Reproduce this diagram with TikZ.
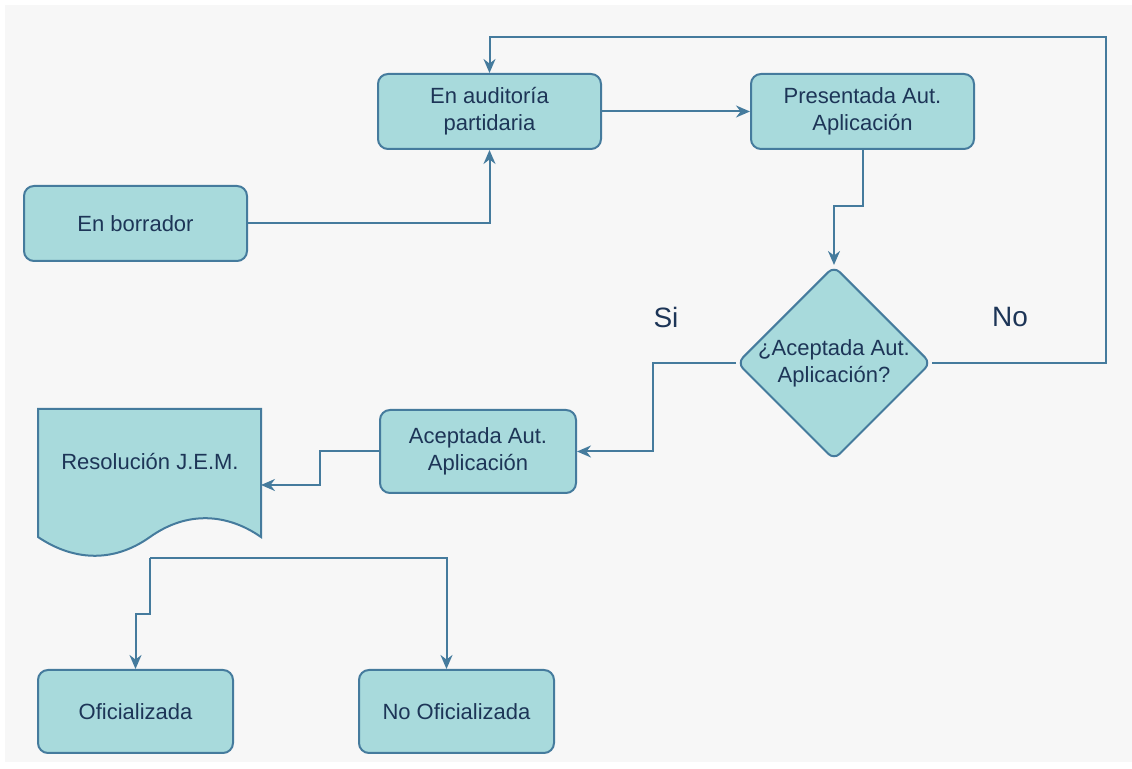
\documentclass[tikz,border=0pt]{standalone}
\usepackage{fontspec}
\setmainfont{Liberation Sans}
\usetikzlibrary{shapes.geometric,arrows.meta}
\definecolor{boxfill}{HTML}{A8DADC}
\definecolor{boxline}{HTML}{457B9D}
\definecolor{txtcol}{HTML}{1D3557}
\definecolor{bgcol}{HTML}{F7F7F7}

\begin{document}
\begin{tikzpicture}[x=0.5pt,y=-0.5pt,line width=1pt,->,>={Stealth[length=7pt,width=6pt]},
  box/.style={draw=boxline, fill=boxfill, rounded corners=5pt, text=txtcol, align=center,
    font=\fontsize{11}{13.5}\selectfont, minimum width=111.5pt, minimum height=37.5pt},
  decision/.style={diamond, draw=boxline, fill=boxfill, rounded corners=4pt, text=txtcol, align=center,
    font=\fontsize{11}{13.5}\selectfont, inner sep=-4pt, minimum width=97pt, minimum height=97pt},
  flow/.style={draw=boxline},
  tag/.style={text=txtcol, font=\fontsize{14}{17}\selectfont}]
  \useasboundingbox (0,0) rectangle (1132,769);
  \fill[bgcol] (5,5) rectangle (1132,762);

  \node[box] (borr) at (135.5,223.5) {En borrador};
  \node[box] (aud) at (489.5,111.5) {En auditoría\\partidaria};
  \node[box] (pres) at (862.5,111.5) {Presentada Aut.\\Aplicación};
  \node[decision] (dec) at (834,363) {¿Aceptada Aut.\\Aplicación?};
  \node[box, minimum width=98pt, minimum height=41.5pt] (acep) at (478,451.5) {Aceptada Aut.\\Aplicación};
  \node[box, minimum width=97.5pt, minimum height=41.5pt] (of) at (135.5,711.5) {Oficializada};
  \node[box, minimum width=97.5pt, minimum height=41.5pt] (nof) at (456.5,711.5) {No Oficializada};

  % documento
  \draw[-, draw=boxline, fill=boxfill] (38,409) -- (261,409) -- (261,537)
    .. controls (228,514) and (188,510) .. (150,537)
    .. controls (112,564) and (72,560) .. (38,537) -- cycle;
  \node[text=txtcol, font=\fontsize{11}{13.5}\selectfont] (res) at (150,462) {Resolución J.E.M.};
  \coordinate (resin) at (261,485);
  \coordinate (resb) at (150,558);

  \node[tag] (si) at (666,317) {Si};
  \node[tag] (no) at (1010,317) {No};

  \draw[flow] (borr.east) -| (aud.south);
  \draw[flow] (aud) -- (pres);
  \draw[flow] (pres.south) -- ++(0,56) -| (dec.north);
  \draw[flow] (dec.west) -- ++(-83,0) |- (acep.east);
  \draw[flow] (dec.east) -- ++(174,0) -- ++(0,-326) -| (aud.north);
  \draw[flow] (acep.west) -- ++(-59,0) |- (resin);
  \draw[flow] (resb) -| ([xshift=-5pt]nof.north);
  \draw[flow] (resb) -- ++(0,56) -| (of.north);
\end{tikzpicture}
\end{document}
